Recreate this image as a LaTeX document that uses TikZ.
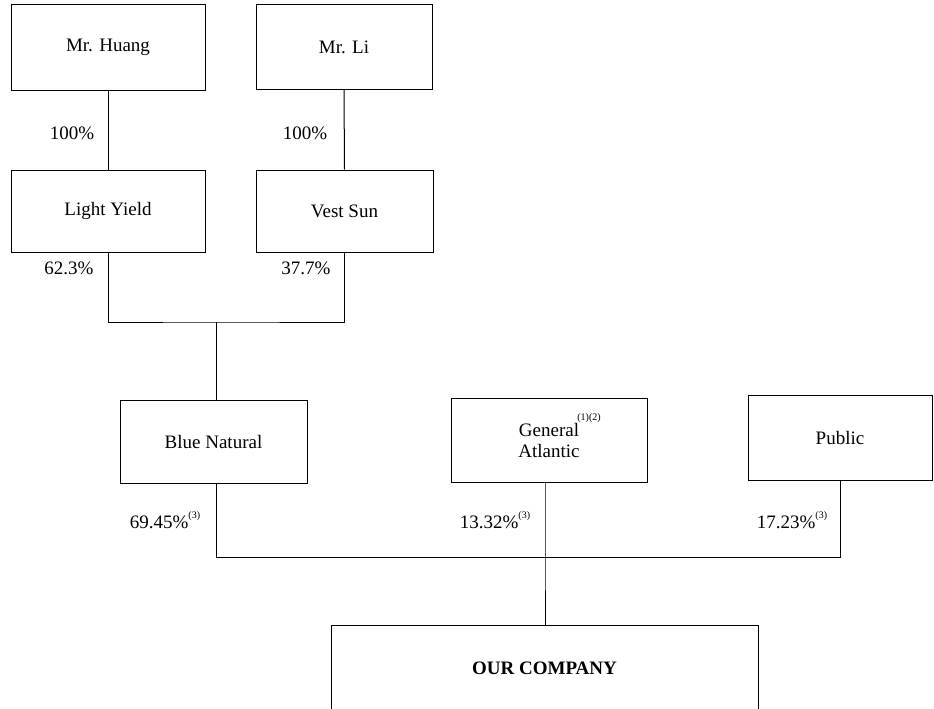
\documentclass[tikz,border=0pt]{standalone}
\usepackage{fontspec}
\setmainfont{Liberation Serif}
\newcommand{\supnote}[1]{\raisebox{0.55em}{\fontsize{10}{10}\selectfont #1}}
\begin{document}
\begin{tikzpicture}[x=1pt,y=-1pt,
  ent/.style={draw, line width=1pt, inner sep=0pt, font=\fontsize{19}{21}\selectfont, align=center},
  pct/.style={font=\fontsize{19}{21}\selectfont, inner sep=0pt},
  conn/.style={line width=1pt}]
\useasboundingbox (0,0) rectangle (934,709);
\clip (0,0) rectangle (934,709);
\node[ent, minimum width=194pt, minimum height=85pt] (huang) at (108,47.5) {Mr. Huang};
\node[ent, minimum width=176pt, minimum height=84pt] (li) at (344,47) {Mr. Li};
\node[ent, minimum width=194pt, minimum height=82pt] (ly) at (108,211) {Light Yield};
\node[ent, minimum width=177pt, minimum height=82pt] (vs) at (344.5,211) {Vest Sun};
\node[ent, minimum width=187pt, minimum height=83pt] (bn) at (213.5,441.5) {Blue Natural};
\node[ent, minimum width=196pt, minimum height=84pt] (ga) at (549,440) {General\\Atlantic};
\node[inner sep=0pt, font=\fontsize{10}{10}\selectfont] (gasup) at (589,418) {(1)(2)};
\node[ent, minimum width=184pt, minimum height=85pt] (pub) at (840,437.5) {Public};
\node[ent, minimum width=427pt, minimum height=96pt] (oc) at (544.5,673) {};
\node[pct, font=\bfseries\fontsize{19}{21}\selectfont] (octext) at (544.5,668) {OUR COMPANY};

\coordinate (j1) at (216,322);
\coordinate (j2) at (545,557);

\draw[conn] (huang.south) -- (ly.north);
\draw[conn] (li.south) -- (vs.north);
\draw[conn] (ly.south) |- (j1) -| (vs.south);
\draw[conn] (j1) -- (j1 |- bn.north);
\draw[conn] (j1 |- bn.south) -- (j1 |- j2) -- (pub.south |- j2) -- (pub.south);
\draw[conn] (j2 |- ga.south) -- (j2) -- (j2 |- oc.north);

\node[pct] (p1) at (72,133) {100\%};
\node[pct] (p2) at (305,133) {100\%};
\node[pct] (p3) at (69,268) {62.3\%};
\node[pct] (p4) at (306,268) {37.7\%};
\node[pct] (p5) at (165,520) {69.45\%\supnote{(3)}};
\node[pct] (p6) at (495,520) {13.32\%\supnote{(3)}};
\node[pct] (p7) at (792,520) {17.23\%\supnote{(3)}};
\end{tikzpicture}
\end{document}
